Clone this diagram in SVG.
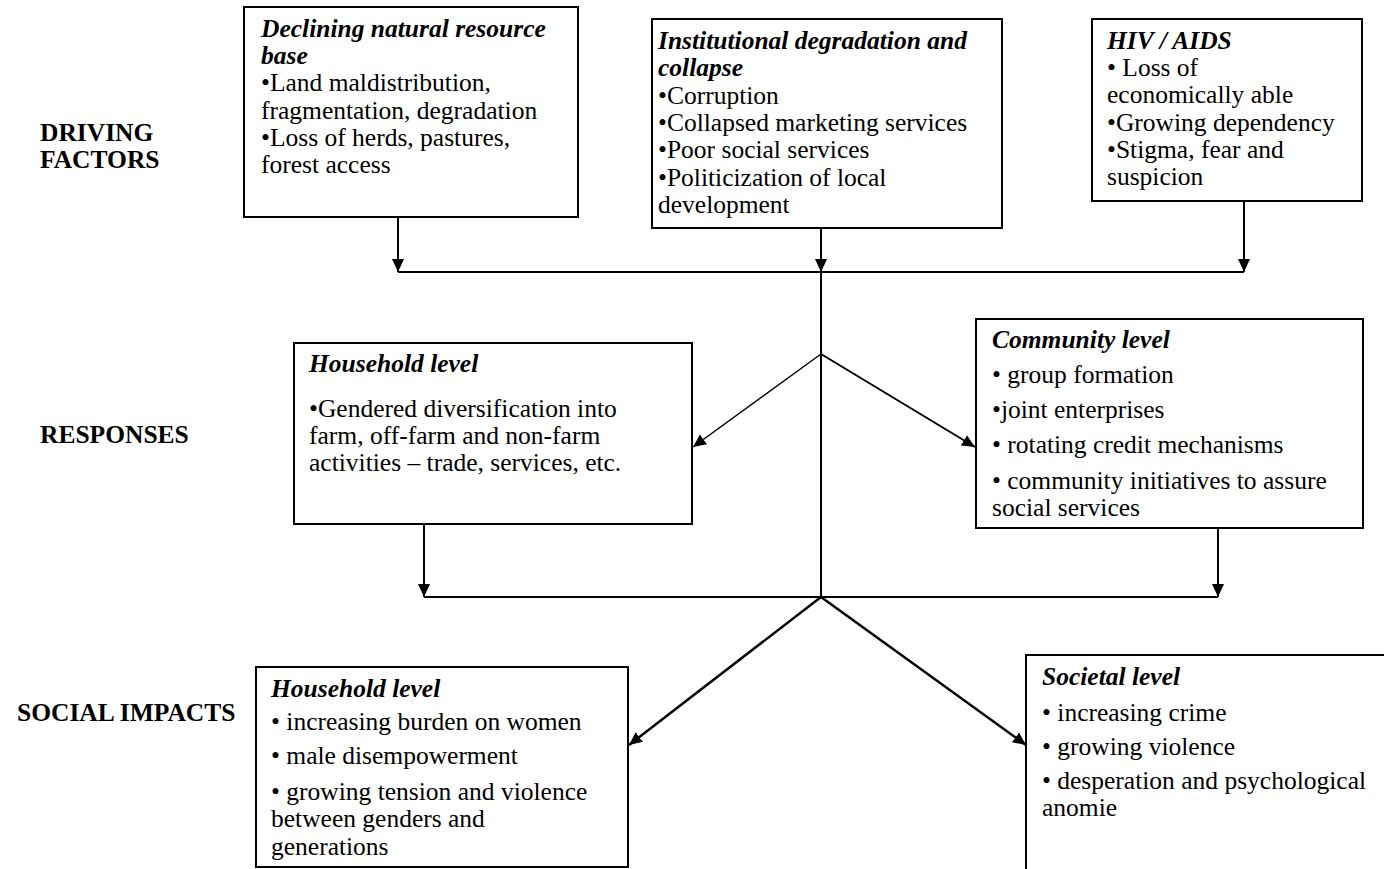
<svg xmlns="http://www.w3.org/2000/svg" width="1384" height="869" viewBox="0 0 1384 869">
<style>
.box{fill:#fff;stroke:#000;stroke-width:2}
text{font-family:"Liberation Serif","Times New Roman",serif;font-size:25.5px;fill:#000}
.t{font-weight:bold;font-style:italic}
.lab{font-weight:bold}
.c{fill:none;stroke:#000;stroke-width:2}
.thin{stroke-width:1.5}
.thick{stroke-width:2.5}
</style>
<defs>
<marker id="ah" markerUnits="userSpaceOnUse" markerWidth="14" markerHeight="14" viewBox="0 0 14 14" refX="13" refY="7" orient="auto">
<path d="M0,1 L13,7 L0,13 z" fill="#000"/>
</marker>
</defs>
<rect width="1384" height="869" fill="#fff"/>
<g id="labels">
<text class="lab" x="40" y="141">DRIVING</text>
<text class="lab" x="40" y="168">FACTORS</text>
<text class="lab" x="40" y="443">RESPONSES</text>
<text class="lab" x="17" y="721">SOCIAL IMPACTS</text>
</g>
<g id="connectors">
<line class="c" x1="398" y1="217" x2="398" y2="272" marker-end="url(#ah)"/>
<line class="c" x1="821" y1="228" x2="821" y2="272" marker-end="url(#ah)"/>
<line class="c" x1="1244" y1="201" x2="1244" y2="272" marker-end="url(#ah)"/>
<line class="c" x1="398" y1="272" x2="1244" y2="272"/>
<line class="c" x1="821" y1="272" x2="821" y2="597"/>
<line class="c thin" x1="821" y1="354" x2="693" y2="447" marker-end="url(#ah)"/>
<line class="c" x1="821" y1="354" x2="975" y2="447" marker-end="url(#ah)"/>
<line class="c" x1="424" y1="524" x2="424" y2="597" marker-end="url(#ah)"/>
<line class="c" x1="1218" y1="528" x2="1218" y2="597" marker-end="url(#ah)"/>
<line class="c" x1="424" y1="597" x2="1218" y2="597"/>
<line class="c thick" x1="821" y1="597" x2="629" y2="745" marker-end="url(#ah)"/>
<line class="c thick" x1="821" y1="597" x2="1026" y2="745" marker-end="url(#ah)"/>
</g>
<g id="natural-resource">
<rect class="box" x="244" y="7" width="334" height="210"/>
<text class="t" x="261" y="37">Declining natural resource</text>
<text class="t" x="261" y="64">base</text>
<text x="261" y="91">•Land maldistribution,</text>
<text x="261" y="119">fragmentation, degradation</text>
<text x="261" y="146">•Loss of herds, pastures,</text>
<text x="261" y="173">forest access</text>
</g>
<g id="institutional">
<rect class="box" x="652" y="19" width="350" height="209"/>
<text class="t" x="658" y="49">Institutional degradation and</text>
<text class="t" x="658" y="76">collapse</text>
<text x="658" y="104">•Corruption</text>
<text x="658" y="131">•Collapsed marketing services</text>
<text x="658" y="158">•Poor social services</text>
<text x="658" y="186">•Politicization of local</text>
<text x="658" y="213">development</text>
</g>
<g id="hiv-aids">
<rect class="box" x="1092" y="19" width="270" height="182"/>
<text class="t" x="1107" y="49">HIV / AIDS</text>
<text x="1107" y="76">• Loss of</text>
<text x="1107" y="103">economically able</text>
<text x="1107" y="131">•Growing dependency</text>
<text x="1107" y="158">•Stigma, fear and</text>
<text x="1107" y="185">suspicion</text>
</g>
<g id="household-response">
<rect class="box" x="294" y="343" width="398" height="181"/>
<text class="t" x="309" y="372">Household level</text>
<text x="309" y="417">•Gendered diversification into</text>
<text x="309" y="444">farm, off-farm and non-farm</text>
<text x="309" y="471">activities – trade, services, etc.</text>
</g>
<g id="community-response">
<rect class="box" x="976" y="319" width="387" height="209"/>
<text class="t" x="992" y="348">Community level</text>
<text x="992" y="383">• group formation</text>
<text x="992" y="418">•joint enterprises</text>
<text x="992" y="453">• rotating credit mechanisms</text>
<text x="992" y="489">• community initiatives to assure</text>
<text x="992" y="516">social services</text>
</g>
<g id="household-impact">
<rect class="box" x="256" y="667" width="372" height="200"/>
<text class="t" x="271" y="697">Household level</text>
<text x="271" y="730">• increasing burden on women</text>
<text x="271" y="764">• male disempowerment</text>
<text x="271" y="800">• growing tension and violence</text>
<text x="271" y="827">between genders and</text>
<text x="271" y="855">generations</text>
</g>
<g id="societal-impact">
<rect class="box" x="1026" y="655" width="400" height="250"/>
<text class="t" x="1042" y="685">Societal level</text>
<text x="1042" y="721">• increasing crime</text>
<text x="1042" y="755">• growing violence</text>
<text x="1042" y="789">• desperation and psychological</text>
<text x="1042" y="816">anomie</text>
</g>
</svg>
